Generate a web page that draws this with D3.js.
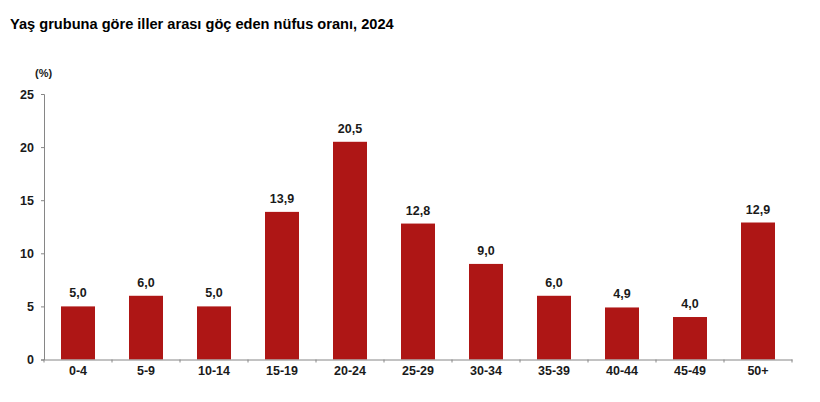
<!DOCTYPE html>
<html>
<head>
<meta charset="utf-8">
<script src="https://cdn.jsdelivr.net/npm/d3@7"></script>
<style>
  html, body { margin: 0; padding: 0; background: #fff; }
  text { font-family: "Liberation Sans", Arial, sans-serif; font-weight: bold; fill: #1a1a1a; }
  .axis path, .axis line { stroke: #868686; stroke-width: 1; }
</style>
</head>
<body>
<svg id="chart" width="820" height="402"></svg>
<script>
var titleText = "Yaş grubuna göre iller arası göç eden nüfus oranı, 2024";
var unitText = "(%)";
var ageGroups = ["0-4", "5-9", "10-14", "15-19", "20-24", "25-29", "30-34", "35-39", "40-44", "45-49", "50+"];
var rates = [5.0, 6.0, 5.0, 13.9, 20.5, 12.8, 9.0, 6.0, 4.9, 4.0, 12.9];
var yTicks = [0, 5, 10, 15, 20, 25];

var svg = d3.select("#chart");

var x = d3.scaleBand().domain(ageGroups).range([44, 792]).paddingInner(0.5).paddingOuter(0.25);
var y = d3.scaleLinear().domain([0, 25]).range([359.5, 94]);

// title
svg.append("text")
  .attr("x", 10)
  .attr("y", 29)
  .style("font-size", "14.6px")
  .style("fill", "#000")
  .text(titleText);

// unit above the y axis
svg.append("text")
  .attr("x", 35)
  .attr("y", 77)
  .style("font-size", "11px")
  .text(unitText);

// bars
svg.selectAll("rect.bar")
  .data(rates)
  .enter()
  .append("rect")
  .attr("class", "bar")
  .attr("x", (d, i) => x(ageGroups[i]))
  .attr("y", d => y(d))
  .attr("width", x.bandwidth())
  .attr("height", d => y(0) - y(d))
  .attr("fill", "#ae1615");

// value labels, comma as decimal mark
svg.selectAll("text.value")
  .data(rates)
  .enter()
  .append("text")
  .attr("class", "value")
  .attr("x", (d, i) => x(ageGroups[i]) + x.bandwidth() / 2)
  .attr("y", d => y(d) - 9)
  .attr("text-anchor", "middle")
  .style("font-size", "12.5px")
  .text(d => d.toFixed(1).replace(".", ","));

// y axis
var yAxis = svg.append("g")
  .attr("class", "axis")
  .attr("transform", "translate(44,0)")
  .call(d3.axisLeft(y).tickValues(yTicks).tickSize(3).tickPadding(7));
yAxis.selectAll("text").style("font-size", "12.5px").style("font-family", null);

// x axis, ticks sit between the categories
var xAxis = svg.append("g")
  .attr("class", "axis")
  .attr("transform", "translate(0,359.5)")
  .call(d3.axisBottom(x).tickSize(0).tickPadding(7));
xAxis.selectAll("text").style("font-size", "12.5px").style("font-family", null);

var step = x.step();
xAxis.selectAll("line.sep")
  .data(d3.range(ageGroups.length + 1))
  .enter()
  .append("line")
  .attr("class", "sep")
  .attr("x1", i => 44 + i * step)
  .attr("x2", i => 44 + i * step)
  .attr("y1", 0)
  .attr("y2", 3);
</script>
</body>
</html>
